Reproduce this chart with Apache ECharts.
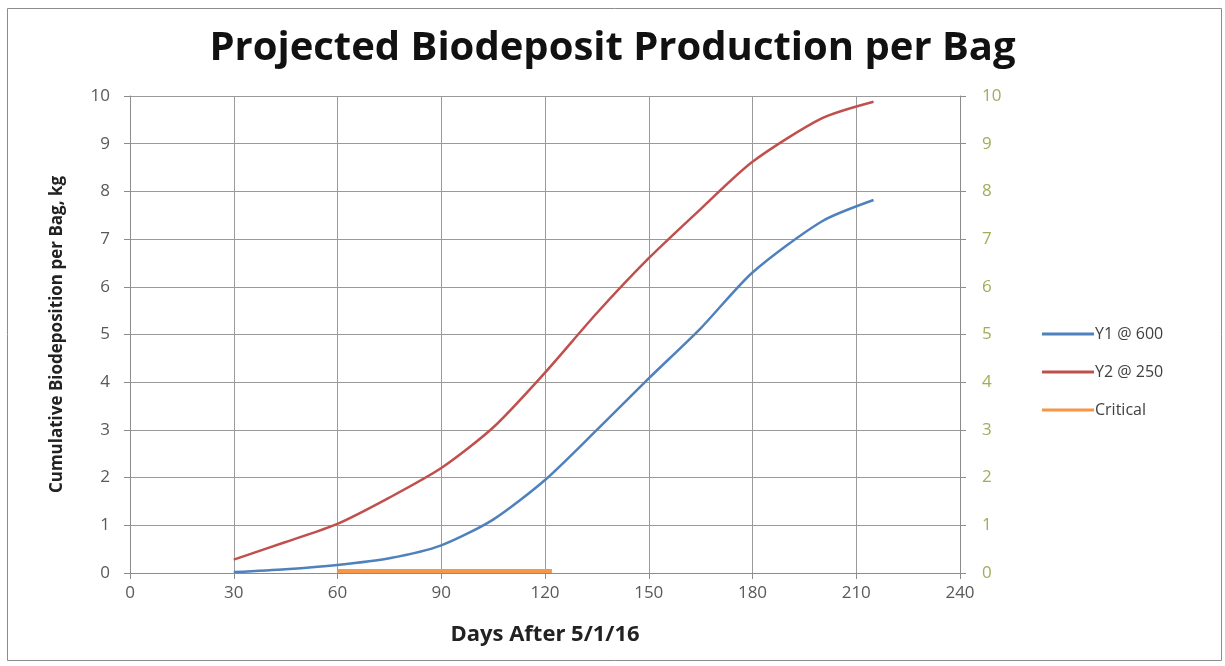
<!DOCTYPE html>
<html>
<head>
<meta charset="utf-8">
<script src="https://cdn.jsdelivr.net/npm/echarts@6/dist/echarts.min.js"></script>
<style>
html,body{margin:0;padding:0;background:#fff;}
#c{width:1225px;height:666px;}
</style>
</head>
<body>
<div id="c"></div>
<script>
var days = [30, 45, 60, 75, 90, 105, 120, 135, 150, 165, 180, 200, 215];
var y1at600 = [0.02, 0.08, 0.17, 0.31, 0.58, 1.12, 1.95, 3.0, 4.08, 5.13, 6.3, 7.37, 7.82];
var y2at250 = [0.28, 0.65, 1.03, 1.58, 2.2, 3.05, 4.2, 5.45, 6.6, 7.63, 8.62, 9.53, 9.88];
var criticalDays = [60, 122];
var criticalVals = [0.04, 0.04];
var xTicks = [0, 30, 60, 90, 120, 150, 180, 210, 240];
var yTicks = [0, 1, 2, 3, 4, 5, 6, 7, 8, 9, 10];

function pairs(xs, ys) { return xs.map(function (x, i) { return [x, ys[i]]; }); }

var chart = echarts.init(document.getElementById('c'));
var font = '"Open Sans", "Noto Sans", sans-serif';
chart.setOption({
  animation: false,
  backgroundColor: '#fff',
  title: {
    text: 'Projected Biodeposit Production per Bag',
    left: 'center', top: 24,
    textStyle: { fontFamily: font, fontSize: 40, fontWeight: 'bold', color: '#111' }
  },
  graphic: [{
    type: 'rect', shape: { x: 7.5, y: 8.5, width: 1214, height: 652 },
    style: { fill: 'none', stroke: '#8c8c8c', lineWidth: 1 }, silent: true
  }],
  legend: {
    orient: 'vertical', left: 1037, top: 321, itemGap: 22,
    itemWidth: 52, itemHeight: 3,
    icon: 'rect',
    textStyle: { fontFamily: font, fontSize: 16, color: '#404040', padding: [0, 0, 0, -4] },
    data: ['Y1 @ 600', 'Y2 @ 250', 'Critical']
  },
  grid: { left: 130, right: 265, top: 96, bottom: 93, containLabel: false },
  xAxis: {
    type: 'value', min: 0, max: 240, interval: 30,
    name: 'Days After 5/1/16', nameLocation: 'middle', nameGap: 51,
    nameTextStyle: { fontFamily: font, fontSize: 22, fontWeight: 'bold', color: '#222' },
    axisLine: { show: true, onZero: false, lineStyle: { color: '#8c8c8c', width: 1 } },
    axisTick: { show: true, length: 6, lineStyle: { color: '#8c8c8c' } },
    axisLabel: { fontFamily: font, fontSize: 17, color: '#595959', margin: 12,
      formatter: function (v) { return xTicks.indexOf(v) >= 0 ? String(v) : ''; } },
    splitLine: { show: true, lineStyle: { color: '#9a9a9a', width: 1 } }
  },
  yAxis: [{
    type: 'value', min: 0, max: 10, interval: 1, position: 'left',
    name: 'Cumulative Biodeposition per Bag, kg', nameLocation: 'middle', nameGap: 64, nameRotate: 90,
    nameTextStyle: { fontFamily: font, fontSize: 17, fontWeight: 'bold', color: '#222' },
    axisLine: { show: true, lineStyle: { color: '#8c8c8c', width: 1 } },
    axisTick: { show: true, length: 6, lineStyle: { color: '#8c8c8c' } },
    axisLabel: { fontFamily: font, fontSize: 17, color: '#595959', margin: 20,
      formatter: function (v) { return yTicks.indexOf(v) >= 0 ? String(v) : ''; } },
    splitLine: { show: true, lineStyle: { color: '#9a9a9a', width: 1 } }
  }, {
    type: 'value', min: 0, max: 10, interval: 1, position: 'right',
    axisLine: { show: true, lineStyle: { color: '#8c8c8c', width: 1 } },
    axisTick: { show: true, length: 6, lineStyle: { color: '#8c8c8c' } },
    axisLabel: { fontFamily: font, fontSize: 17, color: '#9fae5a', margin: 22,
      formatter: function (v) { return yTicks.indexOf(v) >= 0 ? String(v) : ''; } },
    splitLine: { show: false }
  }],
  series: [{
    name: 'Y1 @ 600', type: 'line', yAxisIndex: 0, smooth: 0.25, symbol: 'none',
    data: pairs(days, y1at600),
    lineStyle: { color: '#4f81bd', width: 2.5 }, itemStyle: { color: '#4f81bd' }
  }, {
    name: 'Y2 @ 250', type: 'line', yAxisIndex: 0, smooth: 0.25, symbol: 'none',
    data: pairs(days, y2at250),
    lineStyle: { color: '#c0504d', width: 2.5 }, itemStyle: { color: '#c0504d' }
  }, {
    name: 'Critical', type: 'line', yAxisIndex: 0, symbol: 'none',
    data: pairs(criticalDays, criticalVals),
    lineStyle: { color: '#f79646', width: 4 }, itemStyle: { color: '#f79646' }
  }]
});
</script>
</body>
</html>
